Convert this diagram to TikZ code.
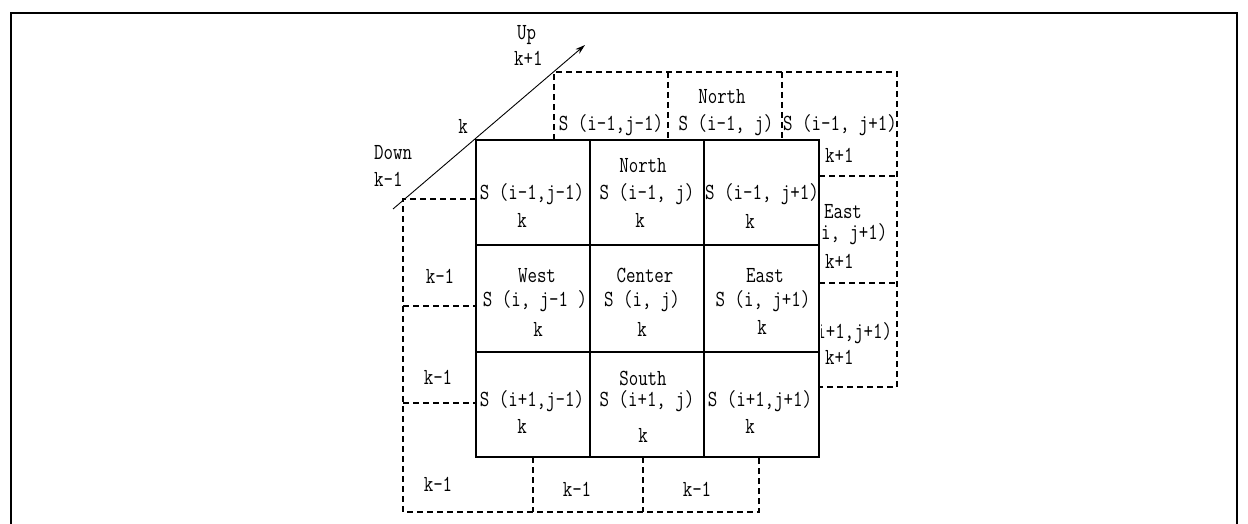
\documentclass[tikz,border=0pt]{standalone}
\usetikzlibrary{arrows.meta}
\newcommand{\nx}[1]{\scalebox{0.8}[1]{#1}}
\begin{document}
\begin{tikzpicture}[x=1pt,y=-1pt,
  gridline/.style={line width=1.8pt},
  dline/.style={line width=1.3pt, dash pattern=on 6pt off 4pt},
  lbl/.style={font=\ttfamily\fontsize{23}{27}\selectfont, inner sep=0pt, anchor=base},
  lblw/.style={lbl, anchor=base west},
]
\useasboundingbox (0,0) rectangle (1248,524);
% frame
\draw[line width=2.6pt] (11,524) -- (11,13) -- (1237,13) -- (1237,524);

% back layer (k+1)
\draw[dline] (554,140) -- (554,72) -- (897,72) -- (897,387) -- (819,387);
\draw[dline] (668,72) -- (668,140);
\draw[dline] (782,72) -- (782,140);
\draw[dline] (819,176) -- (897,176);
\draw[dline] (819,283) -- (897,283);

% front layer (k-1)
\draw[dline] (476,199) -- (403,199) -- (403,512) -- (759,512) -- (759,457);
\draw[dline] (403,306) -- (476,306);
\draw[dline] (403,403) -- (476,403);
\draw[dline] (533,457) -- (533,512);
\draw[dline] (643,457) -- (643,512);

% main layer (k)
\draw[gridline] (476,140) rectangle (819,457);
\draw[gridline] (590,140) -- (590,457);
\draw[gridline] (704,140) -- (704,457);
\draw[gridline] (476,245) -- (819,245);
\draw[gridline] (476,352) -- (819,352);

% up/down axis
\coordinate (dn) at (393,209);
\coordinate (upt) at (585,45);
\draw[line width=0.9pt, -{Stealth[length=10pt,width=6pt]}] (dn) -- (upt);

% axis labels
\node[lblw] (tup) at (517,40) {\nx{Up}};
\node[lblw] (tkp) at (514,66) {\nx{k+1}};
\node[lbl] (tk) at (463,134) {\nx{k}};
\node[lblw] (tdown) at (374,160) {\nx{Down}};
\node[lblw] (tkm) at (374,186) {\nx{k-1}};

% back top row texts
\node[lbl] (bn) at (722,104) {\nx{North}};
\node[lbl] (b1) at (611,131) {\nx{S (i-1,j-1)}};
\node[lbl] (b2) at (726,131) {\nx{S (i-1, j)}};
\node[lbl] (b3) at (840,131) {\nx{S (i-1, j+1)}};
% back right column texts
\node[lblw] (bk1) at (825,163) {\nx{k+1}};
\node[lbl] (beast) at (843,218) {\nx{East}};
\node[lblw] (bk2) at (825,268) {\nx{k+1}};
\node[lblw] (bk3) at (825,364) {\nx{k+1}};
\begin{scope}
  \clip (821,180) rectangle (895,380);
  \node[lbl] (be) at (840,239) {\nx{S (i, j+1)}};
  \node[lbl] (bse) at (840,338) {\nx{S (i+1,j+1)}};
\end{scope}

% main grid texts
\node[lbl] (m1) at (532,200) {\nx{S (i-1,j-1)}};
\node[lbl] (m1k) at (522,227) {\nx{k}};
\node[lbl] (m2n) at (643,173) {\nx{North}};
\node[lbl] (m2) at (647,200) {\nx{S (i-1, j)}};
\node[lbl] (m2k) at (640,227) {\nx{k}};
\node[lbl] (m3) at (762,200) {\nx{S (i-1, j+1)}};
\node[lbl] (m3k) at (750,228) {\nx{k}};

\node[lbl] (m4n) at (537,282) {\nx{West}};
\node[lbl] (m4) at (535,306) {\nx{S (i, j-1 )}};
\node[lbl] (m4k) at (538,336) {\nx{k}};
\node[lbl] (m5n) at (645,282) {\nx{Center}};
\node[lbl] (m5) at (642,306) {\nx{S (i, j)}};
\node[lbl] (m5k) at (642,336) {\nx{k}};
\node[lbl] (m6n) at (765,282) {\nx{East}};
\node[lbl] (m6) at (763,306) {\nx{S (i, j+1)}};
\node[lbl] (m6k) at (762,334) {\nx{k}};

\node[lbl] (m7) at (532,406) {\nx{S (i+1,j-1)}};
\node[lbl] (m7k) at (522,433) {\nx{k}};
\node[lbl] (m8n) at (643,385) {\nx{South}};
\node[lbl] (m8) at (647,406) {\nx{S (i+1, j)}};
\node[lbl] (m8k) at (643,442) {\nx{k}};
\node[lbl] (m9) at (760,406) {\nx{S (i+1,j+1)}};
\node[lbl] (m9k) at (750,433) {\nx{k}};

% front layer texts
\node[lbl] (f1) at (440,283) {\nx{k-1}};
\node[lbl] (f2) at (438,384) {\nx{k-1}};
\node[lbl] (f3) at (438,491) {\nx{k-1}};
\node[lbl] (f4) at (577,496) {\nx{k-1}};
\node[lbl] (f5) at (697,496) {\nx{k-1}};
\end{tikzpicture}
\end{document}
